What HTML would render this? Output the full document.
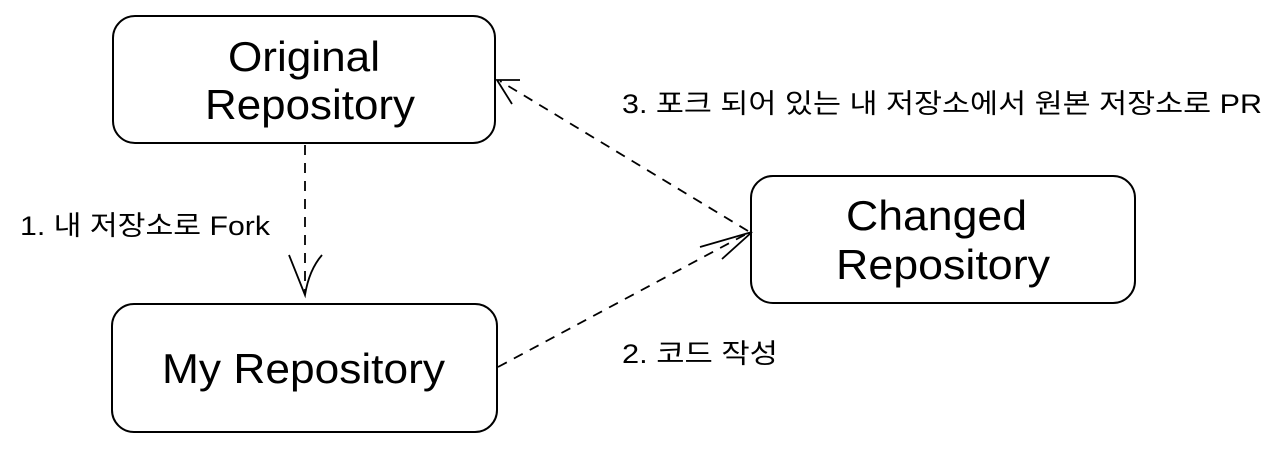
<!DOCTYPE html>
<html><head><meta charset="utf-8"><style>
body{margin:0;background:#fff;width:1280px;height:447px;overflow:hidden}
svg text{font-family:"Liberation Sans","Noto Sans CJK KR",sans-serif;fill:#000}
</style></head><body>
<svg width="1280" height="447" viewBox="0 0 1280 447" xmlns="http://www.w3.org/2000/svg">
<g fill="none" stroke="#000" stroke-width="2">
<rect x="113" y="16" width="382" height="127" rx="22"/>
<rect x="112" y="304" width="385" height="128" rx="22"/>
<rect x="751" y="176" width="384" height="127" rx="22"/>
<g stroke-dasharray="10 8" stroke-width="1.8">
<line x1="305" y1="145" x2="305" y2="293"/>
<line x1="498" y1="367" x2="750" y2="232"/>
<line x1="748" y1="231" x2="500" y2="81"/>
</g>
<g stroke-width="1.8">
<path d="M289 255 Q297 275 305 295 Q309 270 322 255"/>
<path d="M700 247 L752 232 L722 259"/>
<path d="M520 80 L497 80 L512 104"/>
</g>
</g>
<g font-size="42" lengthAdjust="spacingAndGlyphs">
<text x="228" y="71" textLength="152" lengthAdjust="spacingAndGlyphs">Original</text>
<text x="205" y="119" textLength="210" lengthAdjust="spacingAndGlyphs">Repository</text>
<text x="162" y="383" textLength="283" lengthAdjust="spacingAndGlyphs">My Repository</text>
<text x="846" y="230" textLength="181" lengthAdjust="spacingAndGlyphs">Changed</text>
<text x="836" y="279" textLength="214" lengthAdjust="spacingAndGlyphs">Repository</text>
</g>
<g font-size="27">
<text x="20" y="235" textLength="250" lengthAdjust="spacingAndGlyphs">1. 내 저장소로 Fork</text>
<text x="622" y="363" textLength="156" lengthAdjust="spacingAndGlyphs">2. 코드 작성</text>
<text x="622" y="113" textLength="640" lengthAdjust="spacingAndGlyphs">3. 포크 되어 있는 내 저장소에서 원본 저장소로 PR</text>
</g>
</svg>
</body></html>
